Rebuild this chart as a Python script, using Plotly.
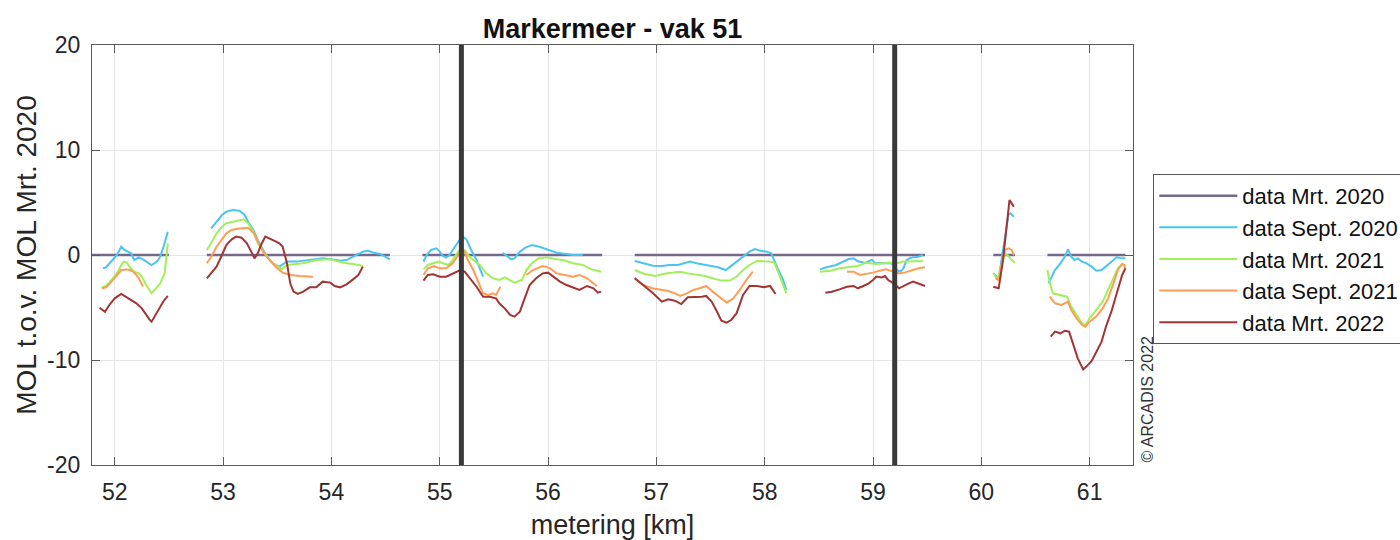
import plotly.graph_objects as go

N = None

# ---- data (km, MOL difference) ----
mrt2020_x = [51.79, 52.50, N, 52.85, 54.54, N, 54.84, 56.50, N, 56.80, 59.48, N, 60.11, 60.31, N, 60.61, 61.33]
mrt2020_y = [0, 0, N, 0, 0, N, 0, 0, N, 0, 0, N, 0, 0, N, 0, 0]

sep2020_x = [51.89, 51.92, 51.98, 52.02, 52.06, 52.09, 52.12, 52.15, 52.18, 52.22, 52.26, 52.29, 52.34, 52.39, 52.42, 52.45, 52.49, N,
             52.89, 52.94, 52.99, 53.03, 53.09, 53.15, 53.20, 53.23, 53.28, 53.32, 53.37, 53.42, 53.46, 53.52, 53.59, 53.68, 53.80, 53.92, 54.05, 54.08, 54.14, 54.20, 54.29, 54.34, 54.39, 54.45, 54.49, 54.54, N,
             54.85, 54.88, 54.92, 54.97, 55.00, 55.03, 55.06, 55.09, 55.14, 55.18, 55.21, 55.25, 55.29, 55.34, 55.37, 55.40, N,
             55.58, 55.62, 55.66, 55.69, 55.74, 55.79, 55.85, 55.92, 56.00, 56.08, 56.16, 56.23, 56.32, N,
             56.80, 56.88, 56.97, 57.05, 57.12, 57.20, 57.25, 57.31, 57.37, 57.45, 57.51, 57.57, 57.64, 57.69, 57.76, 57.82, 57.86, 57.91, 57.96, 58.02, 58.06, 58.12, 58.17, 58.20, N,
             58.51, 58.57, 58.66, 58.72, 58.77, 58.82, 58.86, 58.93, 58.99, 59.02, 59.09, 59.16, 59.19, 59.22, 59.25, 59.28, 59.31, 59.35, 59.42, 59.46, N,
             60.11, 60.16, 60.20, 60.25, 60.27, 60.30, N,
             60.62, 60.65, 60.68, 60.73, 60.77, 60.80, 60.83, 60.86, 60.89, 60.93, 60.97, 61.02, 61.06, 61.11, 61.15, 61.20, 61.25, 61.30, 61.33]
sep2020_y = [-1.27, -1.17, -0.48, 0.0, 0.79, 0.48, 0.32, 0.16, -0.48, -0.22, -0.41, -0.63, -0.95, -0.63, -0.16, 0.79, 2.22, N,
             2.54, 3.17, 3.81, 4.13, 4.29, 4.22, 3.81, 3.17, 2.38, 1.43, 0.48, -0.32, -0.79, -1.11, -0.63, -0.63, -0.48, -0.32, -0.48, -0.55, -0.48, -0.16, 0.32, 0.41, 0.22, 0.10, -0.10, -0.41, N,
             -0.63, 0.0, 0.48, 0.63, 0.32, -0.10, -0.25, 0.0, 0.79, 1.43, 1.81, 1.43, 0.48, -0.48, -1.27, -2.06, N,
             0.22, -0.10, -0.41, -0.32, 0.32, 0.70, 0.95, 0.79, 0.54, 0.22, 0.10, 0.0, 0.0, N,
             -0.57, -0.79, -1.02, -1.05, -0.95, -0.95, -0.79, -0.63, -0.79, -0.95, -1.05, -1.17, -1.43, -1.05, -0.48, 0.0, 0.32, 0.57, 0.41, 0.32, 0.16, -1.27, -2.38, -3.33, N,
             -1.37, -1.17, -0.95, -0.63, -0.41, -0.32, -0.60, -0.75, -0.45, -0.79, -0.80, -0.75, -0.95, -1.43, -1.59, -1.27, -0.48, -0.25, -0.16, 0.0, N,
             -1.75, -2.22, 0.48, 3.81, 3.97, 3.65, N,
             -2.70, -2.06, -1.43, -0.79, -0.16, 0.54, -0.16, -0.48, -0.32, -0.63, -0.79, -1.11, -1.49, -1.43, -1.11, -0.63, -0.22, -0.32, -0.32]

mrt2021_x = [51.88, 51.92, 51.97, 52.02, 52.05, 52.08, 52.11, 52.14, 52.18, 52.22, 52.25, 52.29, 52.34, 52.37, 52.42, 52.46, 52.49, N,
             52.85, 52.89, 52.94, 52.99, 53.03, 53.09, 53.15, 53.19, 53.23, 53.28, 53.32, 53.37, 53.42, 53.46, 53.51, 53.54, 53.59, 53.65, 53.74, 53.86, 53.99, 54.11, 54.17, 54.20, 54.25, 54.29, N,
             54.85, 54.89, 54.94, 54.99, 55.03, 55.08, 55.12, 55.17, 55.20, 55.23, 55.26, 55.31, 55.37, 55.43, 55.49, 55.55, 55.60, 55.65, 55.69, 55.76, 55.80, 55.85, 55.91, 55.99, 56.06, 56.14, 56.23, 56.32, 56.40, 56.49, N,
             56.80, 56.89, 56.99, 57.06, 57.14, 57.22, 57.29, 57.37, 57.45, 57.52, 57.60, 57.68, 57.74, 57.80, 57.86, 57.93, 57.99, 58.05, 58.09, 58.14, 58.17, 58.20, N,
             58.51, 58.61, 58.69, 58.79, 58.86, 58.93, 58.97, 59.03, 59.09, 59.16, 59.22, 59.28, 59.34, 59.40, 59.46, N,
             60.11, 60.15, 60.19, 60.22, 60.25, 60.28, 60.31, N,
             60.61, 60.63, 60.66, 60.73, 60.79, 60.83, 60.88, 60.93, 60.96, 61.00, 61.06, 61.12, 61.17, 61.22, 61.26, 61.31]
mrt2021_y = [-3.08, -2.95, -2.38, -1.75, -1.17, -0.63, -0.70, -1.17, -1.59, -1.75, -2.06, -2.86, -3.65, -3.33, -2.70, -1.75, 1.11, N,
             0.48, 1.11, 2.06, 2.70, 3.02, 3.17, 3.33, 3.40, 3.02, 2.22, 1.11, 0.32, -0.32, -0.79, -1.11, -1.37, -0.95, -0.86, -0.79, -0.48, -0.41, -0.73, -0.79, -0.85, -0.95, -1.05, N,
             -1.37, -0.95, -0.79, -0.63, -0.79, -0.95, -0.48, 0.32, 0.63, 0.48, 0.0, -0.48, -0.95, -1.75, -2.22, -2.38, -2.13, -2.38, -2.63, -2.38, -1.43, -0.79, -0.32, -0.22, -0.38, -0.48, -0.79, -0.95, -1.37, -1.59, N,
             -1.43, -1.81, -2.0, -1.81, -1.68, -1.59, -1.75, -1.90, -2.0, -2.22, -2.44, -2.44, -2.06, -1.43, -0.95, -0.57, -0.57, -0.63, -0.73, -2.06, -2.86, -3.65, N,
             -1.59, -1.49, -1.27, -1.17, -1.05, -0.73, -0.79, -0.86, -0.79, -0.73, -0.79, -0.63, -0.63, -0.57, -0.54, N,
             -1.68, -2.38, -0.79, 0.16, -0.10, -0.48, -0.73, N,
             -1.43, -2.54, -3.65, -3.81, -3.97, -4.92, -5.71, -6.51, -6.67, -6.03, -5.24, -4.44, -3.33, -2.22, -1.27, -0.79]

sep2021_x = [51.88, 51.92, 51.97, 52.02, 52.06, 52.11, 52.14, 52.17, 52.20, 52.23, 52.26, N,
             52.85, 52.89, 52.94, 52.99, 53.03, 53.08, 53.12, 53.18, 53.23, 53.28, 53.32, 53.37, 53.43, 53.49, 53.55, 53.62, 53.71, 53.83, N,
             54.85, 54.89, 54.95, 55.00, 55.06, 55.12, 55.17, 55.20, 55.23, 55.26, 55.31, 55.35, 55.40, 55.45, 55.49, 55.52, 55.56, N,
             55.80, 55.86, 55.95, 56.02, 56.08, 56.14, 56.23, 56.29, 56.36, 56.45, N,
             56.80, 56.88, 56.96, 57.03, 57.11, 57.17, 57.22, 57.28, 57.34, 57.40, 57.46, 57.52, 57.59, 57.65, 57.71, 57.77, 57.83, 57.89, N,
             58.76, 58.82, 58.88, 58.94, 59.00, 59.06, 59.12, 59.19, 59.24, 59.29, 59.35, 59.42, 59.48, N,
             60.13, 60.16, 60.19, 60.22, 60.25, 60.28, 60.30, N,
             60.63, 60.68, 60.74, 60.80, 60.83, 60.88, 60.93, 60.96, 61.00, 61.06, 61.12, 61.17, 61.22, 61.26, 61.30, 61.32, 61.33]
sep2021_y = [-3.17, -3.08, -2.54, -1.90, -1.43, -1.37, -1.43, -1.59, -1.90, -2.38, -3.0, N,
             -0.79, -0.16, 0.79, 1.49, 2.06, 2.38, 2.48, 2.54, 2.60, 2.13, 1.27, 0.32, -0.48, -1.17, -1.68, -1.90, -2.0, -2.06, N,
             -1.90, -1.27, -1.05, -1.27, -1.27, -0.79, 0.0, 0.48, 0.32, -0.48, -1.43, -2.38, -3.65, -3.81, -3.65, -3.81, -3.02, N,
             -1.90, -1.43, -1.05, -1.27, -1.75, -1.90, -2.06, -1.90, -2.22, -2.95, N,
             -2.22, -2.86, -3.17, -3.27, -3.43, -3.65, -3.90, -3.65, -3.33, -3.17, -2.95, -3.49, -4.03, -4.54, -4.13, -3.33, -2.38, -1.59, N,
             -1.59, -1.59, -1.90, -1.81, -1.68, -1.49, -1.37, -1.59, -1.75, -1.68, -1.49, -1.27, -1.17, N,
             -2.22, -2.38, -0.79, 0.48, 0.63, 0.48, 0.0, N,
             -3.97, -4.60, -4.76, -4.44, -5.24, -6.03, -6.67, -6.83, -6.35, -5.87, -5.08, -4.13, -2.70, -1.43, -0.86, -0.95, -1.43]

mrt2022_x = [51.86, 51.91, 51.95, 52.00, 52.06, 52.11, 52.15, 52.20, 52.25, 52.29, 52.32, 52.34, 52.39, 52.42, 52.45, 52.49, N,
             52.85, 52.89, 52.94, 52.99, 53.03, 53.08, 53.12, 53.17, 53.22, 53.26, 53.29, 53.32, 53.35, 53.39, 53.43, 53.48, 53.52, 53.55, 53.59, 53.62, 53.65, 53.69, 53.74, 53.80, 53.86, 53.92, 53.99, 54.03, 54.08, 54.14, 54.20, 54.25, 54.29, N,
             54.85, 54.89, 54.94, 55.00, 55.06, 55.12, 55.19, 55.23, 55.28, 55.34, 55.40, 55.46, 55.52, 55.55, 55.60, 55.65, 55.69, 55.74, 55.79, 55.83, 55.89, 55.95, 56.00, 56.05, 56.11, 56.17, 56.23, 56.29, 56.36, 56.42, 56.46, 56.49, N,
             56.80, 56.88, 56.97, 57.05, 57.11, 57.17, 57.23, 57.29, 57.36, 57.42, 57.46, 57.51, 57.56, 57.60, 57.65, 57.69, 57.74, 57.80, 57.86, 57.93, 57.99, 58.05, 58.10, N,
             58.56, 58.62, 58.69, 58.76, 58.82, 58.86, 58.91, 58.96, 59.00, 59.03, 59.08, 59.11, 59.14, 59.19, 59.24, 59.28, 59.33, 59.37, 59.42, 59.48, N,
             60.11, 60.16, 60.20, 60.23, 60.26, 60.28, 60.30, N,
             60.64, 60.68, 60.73, 60.77, 60.81, 60.85, 60.89, 60.94, 60.97, 61.02, 61.06, 61.11, 61.15, 61.20, 61.25, 61.30, 61.33]
mrt2022_y = [-5.02, -5.40, -4.76, -4.13, -3.71, -4.03, -4.35, -4.60, -5.08, -5.71, -6.13, -6.35, -5.52, -4.90, -4.40, -3.90, N,
             -2.22, -1.75, -1.11, 0.0, 0.95, 1.49, 1.75, 1.65, 1.11, 0.32, -0.32, 0.16, 0.95, 1.75, 1.59, 1.33, 1.11, 0.79, -0.79, -2.70, -3.49, -3.71, -3.49, -3.08, -3.08, -2.54, -2.63, -2.95, -3.08, -2.80, -2.32, -1.90, -1.11, N,
             -2.44, -1.90, -1.84, -2.06, -2.06, -1.75, -1.43, -1.59, -2.22, -3.02, -3.97, -3.97, -4.13, -4.60, -5.08, -5.71, -5.87, -5.40, -3.97, -2.86, -2.22, -1.75, -1.68, -2.06, -2.54, -2.86, -3.08, -3.33, -2.95, -3.17, -3.59, -3.49, N,
             -2.22, -2.86, -3.65, -4.44, -4.22, -4.35, -4.67, -4.03, -4.03, -3.97, -3.90, -4.44, -5.40, -6.25, -6.44, -6.19, -5.56, -3.81, -2.95, -2.95, -3.08, -2.95, -3.71, N,
             -3.59, -3.49, -3.27, -3.02, -2.95, -3.17, -2.95, -2.70, -2.38, -2.06, -2.13, -2.0, -2.38, -2.70, -3.17, -2.95, -2.70, -2.54, -2.70, -2.95, N,
             -3.02, -3.17, -0.48, 2.70, 5.24, 4.92, 4.60, N,
             -7.78, -7.30, -7.46, -7.21, -7.30, -8.57, -9.84, -10.89, -10.63, -10.06, -9.21, -8.25, -6.83, -5.40, -3.65, -1.90, -1.27]

series_names = ["data Mrt. 2020", "data Sept. 2020", "data Mrt. 2021", "data Sept. 2021", "data Mrt. 2022"]
series_colors = ["#76688a", "#4cc4f2", "#9ff05a", "#ff9d55", "#a23434"]
series_x = [mrt2020_x, sep2020_x, mrt2021_x, sep2021_x, mrt2022_x]
series_y = [mrt2020_y, sep2020_y, mrt2021_y, sep2021_y, mrt2022_y]

boundaries_km = [55.2, 59.2]
x_ticks = [52, 53, 54, 55, 56, 57, 58, 59, 60, 61]
x_ticklabels = ["52", "53", "54", "55", "56", "57", "58", "59", "60", "61"]
y_ticks = [-20, -10, 0, 10, 20]
y_ticklabels = ["-20", "-10", "0", "10", "20"]

FONT = "Liberation Sans, Arial, Helvetica, sans-serif"

fig = go.Figure()
for name, color, xs, ys in zip(series_names, series_colors, series_x, series_y):
    fig.add_trace(go.Scatter(x=xs, y=ys, mode="lines", name=name,
                             line=dict(color=color, width=2.5 if name == "data Mrt. 2020" else 2),
                             connectgaps=False))

for b in boundaries_km:
    fig.add_shape(type="line", x0=b, x1=b, y0=0, y1=1, xref="x", yref="paper",
                  line=dict(color="#3a3a3a", width=5), layer="above")

axis_common = dict(showline=True, linecolor="#5a5a5a", linewidth=1.2, mirror="ticks",
                   ticks="inside", ticklen=8, tickcolor="#5a5a5a", tickwidth=1.2,
                   showgrid=True, gridcolor="#e6e6e6", gridwidth=1, zeroline=False,
                   tickfont=dict(family=FONT, size=23, color="#262626"))

fig.update_layout(
    width=1400, height=540,
    margin=dict(l=92, r=267, t=45, b=75, autoexpand=False),
    paper_bgcolor="white", plot_bgcolor="white",
    title=dict(text="Markermeer - vak 51", x=0.4375, xanchor="center", y=0.948, yanchor="middle",
               font=dict(family=FONT, size=27, color="#111111", weight="bold")),
    xaxis=dict(range=[51.79, 61.40], tickvals=x_ticks, ticktext=x_ticklabels, ticklabelstandoff=6,
               automargin=False,
               title=dict(text="metering [km]", font=dict(family=FONT, size=27, color="#262626"), standoff=12),
               **axis_common),
    yaxis=dict(range=[-20, 20], tickvals=y_ticks, ticktext=y_ticklabels, ticklabelstandoff=6,
               automargin=False,
               title=dict(text="MOL t.o.v. MOL Mrt. 2020", font=dict(family=FONT, size=28, color="#262626"), standoff=2),
               **axis_common),
    legend=dict(x=1.0195, y=0.693, xanchor="left", yanchor="top",
                bgcolor="white", bordercolor="#555555", borderwidth=1,
                font=dict(family=FONT, size=22, color="#111111"), itemwidth=78,
                tracegroupgap=0),
    showlegend=True,
)

fig.add_annotation(text="© ARCADIS 2022", x=1.0135, y=0.0, xref="paper", yref="paper",
                   xanchor="center", yanchor="bottom", textangle=-90, showarrow=False,
                   font=dict(family=FONT, size=16, color="#333333"))

fig.write_html("out.html")
